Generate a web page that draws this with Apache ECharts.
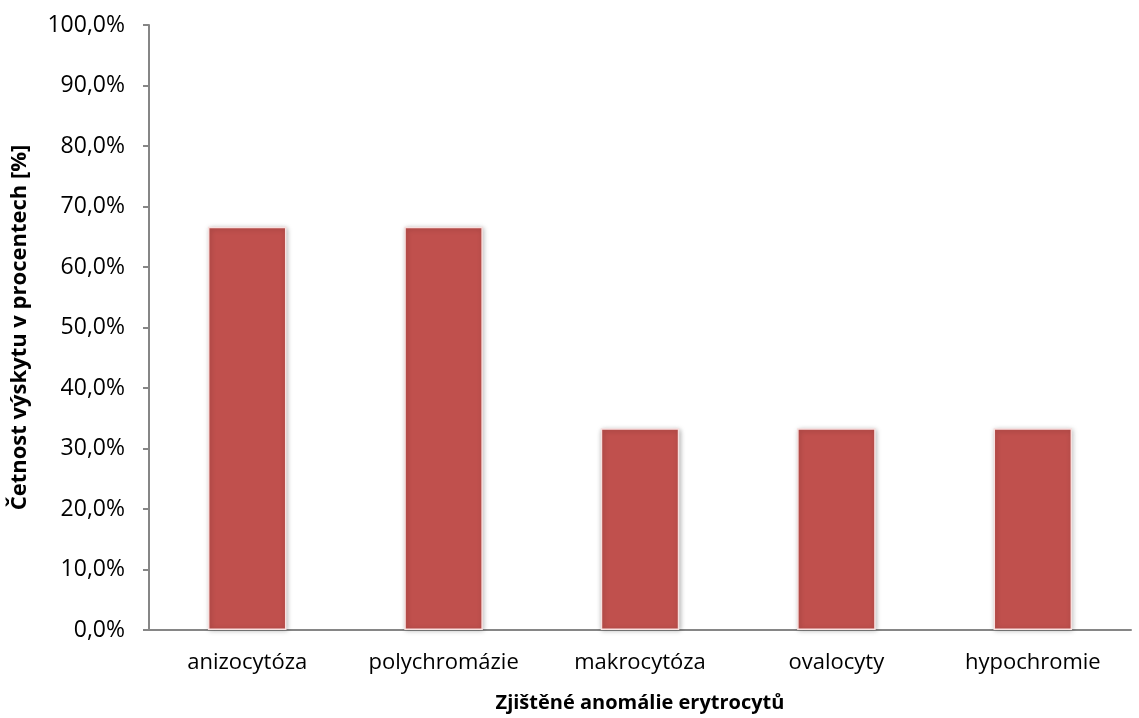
<!DOCTYPE html>
<html>
<head>
<meta charset="utf-8">
<script src="https://cdn.jsdelivr.net/npm/echarts@6/dist/echarts.min.js"></script>
<style>
  html, body { margin: 0; padding: 0; background: #fff; }
  #chart { width: 1139px; height: 718px; }
</style>
</head>
<body>
<div id="chart"></div>
<script>
// Erythrocyte anomalies found, share of samples in percent
const categories = ['anizocytóza', 'polychromázie', 'makrocytóza', 'ovalocyty', 'hypochromie'];
const values = [66.67, 66.67, 33.33, 33.33, 33.33];
const xTitle = 'Zjištěné anomálie erytrocytů';
const yTitle = 'Četnost výskytu v procentech [%]';

const FONT = '"Open Sans", "Liberation Sans", sans-serif';
const chart = echarts.init(document.getElementById('chart'));

chart.setOption({
  animation: false,
  grid: { left: 149, right: 8, top: 25, bottom: 87, containLabel: false },
  xAxis: {
    type: 'category',
    data: categories,
    name: xTitle,
    nameLocation: 'middle',
    nameGap: 63,
    nameTextStyle: { fontFamily: FONT, fontWeight: 'bold', fontSize: 20, color: '#000' },
    axisLine: { lineStyle: { color: '#868686', width: 2 } },
    axisTick: { show: false },
    axisLabel: { fontFamily: FONT, fontSize: 22, color: '#000', margin: 22 }
  },
  yAxis: {
    type: 'value',
    min: 0,
    max: 100,
    interval: 10,
    name: yTitle,
    nameLocation: 'middle',
    nameGap: 118,
    nameTextStyle: { fontFamily: FONT, fontWeight: 'bold', fontSize: 22, color: '#000' },
    axisLine: { show: true, lineStyle: { color: '#868686', width: 2 } },
    axisTick: { show: true, length: 6, inside: false, lineStyle: { color: '#868686', width: 2 } },
    splitLine: { show: false },
    axisLabel: {
      fontFamily: FONT, fontSize: 23, color: '#000', margin: 24,
      formatter: v => v.toFixed(1).replace('.', ',') + '%'
    }
  },
  series: [{
    type: 'bar',
    data: values,
    barWidth: '40%',
    itemStyle: {
      color: '#C0504D',
      borderColor: '#F7E0DF',
      borderWidth: 1.5,
      shadowColor: 'rgba(0,0,0,0.28)',
      shadowBlur: 5,
      shadowOffsetX: 1,
      shadowOffsetY: 1
    }
  }]
});
</script>
</body>
</html>
